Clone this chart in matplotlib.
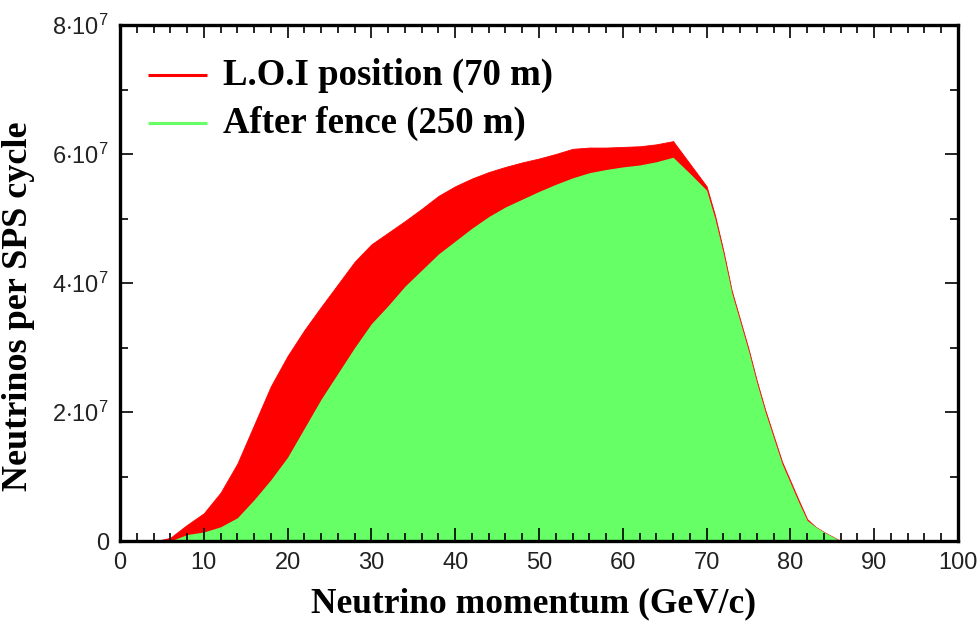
import matplotlib
matplotlib.use("Agg")
import matplotlib.pyplot as plt
from matplotlib.ticker import MultipleLocator, FuncFormatter

# Neutrino momentum grid (GeV/c)
momentum = [4, 5, 6, 8, 10, 12, 14, 16, 18, 20, 22, 24, 26, 28, 30, 32, 34, 36, 38, 40,
            42, 44, 46, 48, 50, 52, 54, 56, 58, 60, 62, 64, 66, 68, 70, 71, 72, 73, 74,
            75, 76, 77, 78, 79, 80, 81, 82, 83, 84, 85, 86]

# L.O.I position (70 m), units of 1e7
loi_70m = [0.0, 0.02, 0.05, 0.25, 0.43, 0.75, 1.2, 1.8, 2.4, 2.87, 3.27, 3.63, 3.98, 4.33,
           4.6, 4.78, 4.96, 5.15, 5.35, 5.5, 5.62, 5.72, 5.8, 5.87, 5.93, 6.0, 6.08, 6.1,
           6.1, 6.11, 6.12, 6.15, 6.2, 5.85, 5.5, 5.05, 4.5, 3.88, 3.43,
           2.98, 2.48, 2.03, 1.63, 1.23, 0.93, 0.63, 0.34, 0.22, 0.14, 0.07, 0.0]

# After fence (250 m), units of 1e7
fence_250m = [0.0, 0.0, 0.0, 0.1, 0.14, 0.22, 0.36, 0.64, 0.95, 1.3, 1.75, 2.2, 2.6, 3.0,
              3.37, 3.65, 3.95, 4.2, 4.45, 4.65, 4.85, 5.03, 5.18, 5.3, 5.42, 5.53, 5.63,
              5.71, 5.76, 5.8, 5.83, 5.88, 5.95, 5.7, 5.44, 5.0, 4.46, 3.85, 3.4,
              2.95, 2.45, 2.0, 1.6, 1.2, 0.9, 0.6, 0.32, 0.22, 0.14, 0.07, 0.0]

labels = ["L.O.I position (70 m)", "After fence (250 m)"]
RED = "#FF0000"
GREEN = "#66FF66"

plt.rcParams["mathtext.fontset"] = "custom"
plt.rcParams["mathtext.rm"] = "Liberation Sans"
plt.rcParams["mathtext.it"] = "Liberation Sans"

fig = plt.figure(figsize=(9.79, 6.24), dpi=100)
ax = fig.add_axes([120 / 979, 1 - 541 / 624, (958 - 120) / 979, (541 - 25) / 624])

scale = 1e7
ax.fill_between(momentum, [v * scale for v in loi_70m], 0, color=RED, lw=0.6, edgecolor=RED)
ax.fill_between(momentum, [v * scale for v in fence_250m], 0, color=GREEN, lw=0)

ax.set_xlim(0, 100)
ax.set_ylim(0, 8e7)
ax.xaxis.set_major_locator(MultipleLocator(10))
ax.xaxis.set_minor_locator(MultipleLocator(2))
ax.yaxis.set_major_locator(MultipleLocator(2e7))
ax.yaxis.set_minor_locator(MultipleLocator(1e7))


def yfmt(v, pos):
    if v == 0:
        return "0"
    m = v / 1e7
    return r"%d$\cdot$10$^{7}$" % round(m)


ax.yaxis.set_major_formatter(FuncFormatter(yfmt))

for s in ax.spines.values():
    s.set_linewidth(2.4)
ax.tick_params(which="both", direction="in", top=True, right=True, width=1.2,
               labelsize=17, colors="black")
ax.tick_params(which="major", length=9.5, pad=8)
ax.tick_params(which="minor", length=6)
for lab in ax.get_xticklabels() + ax.get_yticklabels():
    lab.set_fontfamily("Liberation Sans")
    lab.set_color("#222222")

ax.set_xlabel("Neutrino momentum (GeV/c)", fontsize=25.5, fontweight="bold",
              fontfamily="Liberation Serif")
ax.set_ylabel("Neutrinos per SPS cycle", fontsize=26, fontweight="bold",
              fontfamily="Liberation Serif")
ax.xaxis.set_label_coords(0.494, -0.09)
ax.yaxis.set_label_coords(-0.101, 0.455)

# legend
for i, (lab, col) in enumerate(zip(labels, [RED, GREEN])):
    y = 0.903 - i * 0.093
    ax.plot([0.033, 0.104], [y, y], transform=ax.transAxes, color=col, lw=2.2,
            solid_capstyle="butt", clip_on=False)
    ax.text(0.123, y, lab, transform=ax.transAxes, va="center", ha="left",
            fontsize=26.5, fontweight="bold", fontfamily="Liberation Serif")

fig.savefig("out.png", dpi=100)
